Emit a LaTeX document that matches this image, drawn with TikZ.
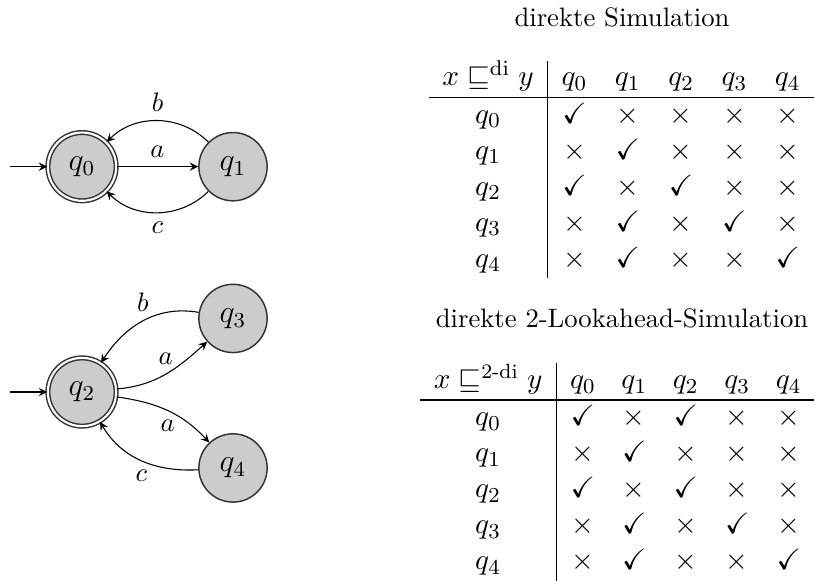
\documentclass[tikz,border=0pt]{standalone}
\usepackage{amsmath,amssymb}
\usepackage{array}
\newcommand{\ja}{$\checkmark$}
\newcommand{\nein}{$\times$}
\setlength{\tabcolsep}{5.5pt}
\begin{document}
\begin{tikzpicture}[>=stealth, font=\normalsize,
		zst/.style={circle, draw=black!80, line width=0.55pt, fill=black!20, minimum size=0.9cm, inner sep=0pt, font=\large},
		akz/.style={double, double distance=0.8pt}]
		\useasboundingbox (0,0) rectangle (10.742,7.657);
		% erster Automat
		\node[zst, akz] (q0) at (1.081,5.46) {$q_0$};
		\node[zst] (q1) at (3.071,5.46) {$q_1$};
		\coordinate (s0) at (0.13,5.46);
		\draw[->] (s0) -- (q0);
		\draw[->] (q0) -- (q1) node[above, midway] {$a$};
		\draw[->] (q1) to[bend right=45] node[above] {$b$} (q0);
		\draw[->] (q1) to[bend left=45] node[below] {$c$} (q0);
		% zweiter Automat
		\node[zst, akz] (q2) at (1.081,2.49) {$q_2$};
		\node[zst] (q3) at (3.071,3.46) {$q_3$};
		\node[zst] (q4) at (3.071,1.489) {$q_4$};
		\coordinate (s2) at (0.13,2.49);
		\draw[->] (s2) -- (q2);
		\draw[->] (q2) to[out=5, in=222] node[above] {$a$} (q3);
		\draw[->] (q3) to[out=170, in=57] node[above] {$b$} (q2);
		\draw[->] (q2) to[out=-8, in=133] node[below] {$a$} (q4);
		\draw[->] (q4) to[out=183, in=-59] node[below] {$c$} (q2);
		% Tabellen
		\node[anchor=base] (t1) at (8.198,7.314) {direkte Simulation};
		\node[anchor=north east, inner sep=0pt] (tab1) at (10.742,6.866) {\fontsize{11}{13.5}\selectfont
			\begin{tabular}{w{c}{33pt}|*{5}{w{c}{9pt}}}
				$x \sqsubseteq^{\mathrm{di}} y$ & $q_0$ & $q_1$ & $q_2$ & $q_3$ & $q_4$ \\ \hline
				$q_0$ & \ja & \nein & \nein & \nein & \nein \\
				$q_1$ & \nein & \ja & \nein & \nein & \nein \\
				$q_2$ & \ja & \nein & \ja & \nein & \nein \\
				$q_3$ & \nein & \ja & \nein & \ja & \nein \\
				$q_4$ & \nein & \ja & \nein & \nein & \ja
			\end{tabular}};
		\node[anchor=base] (t2) at (8.198,3.334) {direkte 2-Lookahead-Simulation};
		\node[anchor=north east, inner sep=0pt] (tab2) at (10.742,2.873) {\fontsize{11}{13.5}\selectfont
			\begin{tabular}{w{c}{40pt}|*{5}{w{c}{8.3pt}}}
				$x \sqsubseteq^{\text{2-di}} y$ & $q_0$ & $q_1$ & $q_2$ & $q_3$ & $q_4$ \\ \hline
				$q_0$ & \ja & \nein & \ja & \nein & \nein \\
				$q_1$ & \nein & \ja & \nein & \nein & \nein \\
				$q_2$ & \ja & \nein & \ja & \nein & \nein \\
				$q_3$ & \nein & \ja & \nein & \ja & \nein \\
				$q_4$ & \nein & \ja & \nein & \nein & \ja
			\end{tabular}};
	\end{tikzpicture}
\end{document}
